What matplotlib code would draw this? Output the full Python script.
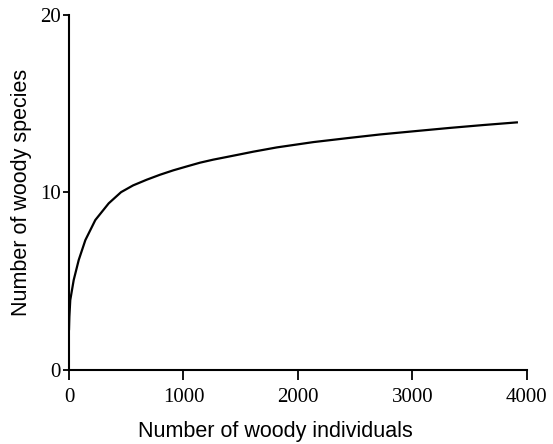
import matplotlib.pyplot as plt
import numpy as np

# rarefaction curve
individuals = [0, 3, 11, 41, 85, 143, 230, 347, 455, 560, 679, 795, 912, 1030, 1145,
               1260, 1378, 1495, 1611, 1816, 2136, 2456, 2719, 3030, 3330, 3620, 3914]
species = [2.3, 3.0, 3.94, 5.07, 6.2, 7.32, 8.45, 9.39, 10.02, 10.4, 10.72, 11.0, 11.25, 11.47, 11.68,
           11.85, 12.0, 12.15, 12.3, 12.54, 12.84, 13.08, 13.27, 13.46, 13.64, 13.8, 13.95]

xticks = [0, 1000, 2000, 3000, 4000]
yticks = [0, 10, 20]

fig = plt.figure(figsize=(5.53, 4.44), dpi=100)
ax = fig.add_axes([0.1248, 0.1667, 0.8276, 0.7995])

ax.plot(individuals, species, color='black', lw=1.6, solid_joinstyle='round')

ax.set_xlim(0, 4000)
ax.set_ylim(0, 20)
ax.set_xticks(xticks)
ax.set_yticks(yticks)
ax.spines['top'].set_visible(False)
ax.spines['right'].set_visible(False)
ax.spines['left'].set_linewidth(1.5)
ax.spines['bottom'].set_linewidth(1.5)
ax.tick_params(axis='x', direction='out', length=7, width=1.3, pad=6)
ax.tick_params(axis='y', direction='out', length=4, width=1.3, pad=2)
for lab in ax.get_xticklabels() + ax.get_yticklabels():
    lab.set_fontfamily('Liberation Serif')
    lab.set_fontsize(15)

ax.set_xlabel('Number of woody individuals', fontfamily='Liberation Sans', fontsize=15.5, labelpad=10)
ax.xaxis.set_label_coords(0.45, -0.145)
ax.set_ylabel('Number of woody species', fontfamily='Liberation Sans', fontsize=15.5, labelpad=6)

plt.savefig('out.png', dpi=100)
